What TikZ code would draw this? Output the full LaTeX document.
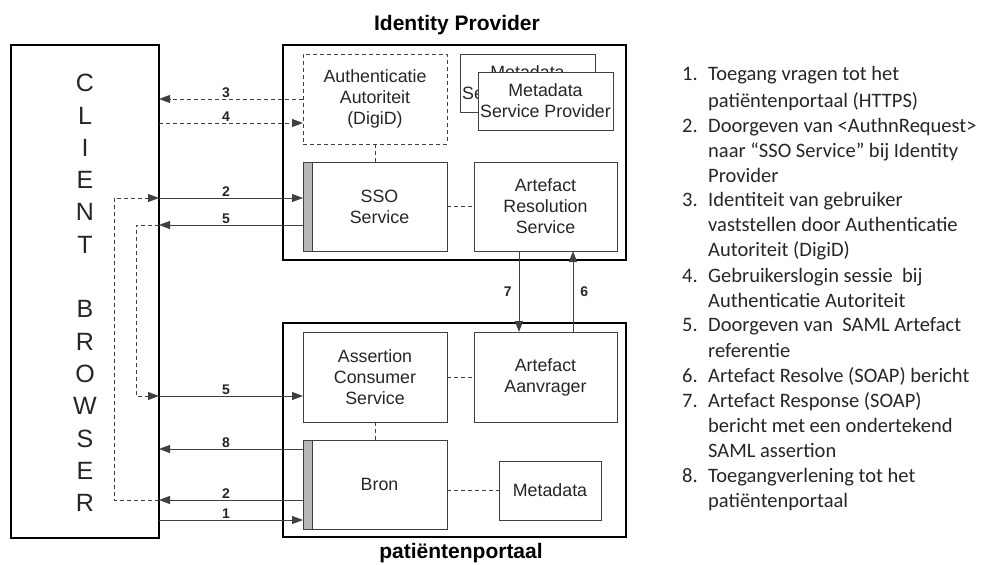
\documentclass[tikz,border=0pt]{standalone}
\usepackage{fontspec}
\setmainfont{Liberation Sans}
\newfontfamily\listfont{Carlito}
\usetikzlibrary{arrows.meta}
\tikzset{
  outerbox/.style={draw=black, line width=2pt, inner sep=0pt, outer sep=0pt},
  inbox/.style={draw=black!75, line width=0.9pt, fill=white, inner sep=0pt, outer sep=0pt,
    align=center, text=black!85, font=\fontsize{17.8}{21}\selectfont},
  dashbox/.style={inbox, dash pattern=on 4pt off 3pt},
  conn/.style={draw=black!75, line width=0.9pt},
  dconn/.style={conn, dash pattern=on 4pt off 3pt},
  tipend/.style={-{Triangle[length=11pt,width=8pt]}},
  lbl/.style={font=\bfseries\fontsize{14}{16}\selectfont, inner sep=1pt, text=black!85},
  title/.style={font=\bfseries\fontsize{21}{24}\selectfont, inner sep=0pt},
  listtxt/.style={font=\listfont\fontsize{20.5}{24}\selectfont, anchor=base west, inner sep=0pt, text=black!85},
  barfill/.style={draw=black!75, line width=0.9pt, fill=black!28}
}
\begin{document}
\begin{tikzpicture}[x=1pt,y=-1pt]
\useasboundingbox (0,0) rectangle (983,565);

% main containers
\node[outerbox, minimum width=148pt, minimum height=493pt] (client) at (85,291.5) {};
\node[font=\fontsize{25}{32.3}\selectfont, align=center, inner sep=0pt, text=black!85] (clienttxt) at (85,293)
  {C\\L\\I\\E\\N\\T\\\mbox{}\\B\\R\\O\\W\\S\\E\\R};
\node[outerbox, minimum width=343pt, minimum height=215pt] (idp) at (454.5,152.5) {};
\node[outerbox, minimum width=343pt, minimum height=214pt] (pp) at (454.5,430) {};
\node[title] (idptitle) at (457,25) {Identity Provider};
\node[title] (pptitle) at (461,553) {patiëntenportaal};

% identity provider components
\node[dashbox, minimum width=144pt, minimum height=90pt] (auth) at (375,99) {Authenticatie\\Autoriteit\\(DigiD)};
\node[inbox, minimum width=135pt, minimum height=58pt] (metaback) at (527.5,83) {Metadata\\Service Provider};
\node[inbox, minimum width=135pt, minimum height=58pt] (metafront) at (545.5,101) {Metadata\\Service Provider};
\node[inbox, minimum width=144pt, minimum height=89pt] (sso) at (375,206.5) {\hspace*{9pt}SSO\\\hspace*{9pt}Service};
\draw[barfill] (sso.north west) rectangle ([xshift=9pt]sso.south west);
\node[inbox, minimum width=143pt, minimum height=89pt] (ars) at (545.5,206.5) {Artefact\\Resolution\\Service};

% portal components
\node[inbox, minimum width=144pt, minimum height=90pt] (acs) at (375,377) {Assertion\\Consumer\\Service};
\node[inbox, minimum width=143pt, minimum height=90pt] (aa) at (545.5,377) {Artefact\\Aanvrager};
\node[inbox, minimum width=144pt, minimum height=89pt] (bron) at (375,484.5) {\hspace*{9pt}Bron};
\draw[barfill] (bron.north west) rectangle ([xshift=9pt]bron.south west);
\node[inbox, minimum width=102pt, minimum height=59pt] (meta2) at (550,490.5) {Metadata};

% internal dashed links
\draw[dconn] (auth.south) -- (sso.north);
\draw[dconn] (sso.east) -- (ars.west);
\draw[dconn] (acs.east) -- (aa.west);
\draw[dconn] (acs.south) -- (bron.north);
\draw[dconn] (bron.east |- meta2.west) -- (meta2.west);

% anchor coordinates
\coordinate (a3) at (auth.west);
\coordinate (a4) at ([yshift=-24pt]auth.west);
\coordinate (s2) at ([yshift=8.5pt]sso.west);
\coordinate (s5) at ([yshift=-18.5pt]sso.west);
\coordinate (c5) at ([yshift=-19pt]acs.west);
\coordinate (b8) at ([yshift=35.5pt]bron.west);
\coordinate (b2) at ([yshift=-15.5pt]bron.west);
\coordinate (b1) at ([yshift=-35.5pt]bron.west);
\coordinate (d2) at ([xshift=-45pt]client.east);
\coordinate (d5) at ([xshift=-23pt]client.east);
\coordinate (r7) at ([xshift=-26.5pt]ars.south);
\coordinate (r6) at ([xshift=27.5pt]aa.north);

% client <-> identity provider
\draw[dconn, tipend] (a3) -- node[lbl, above, xshift=-5pt] (l3) {3} (client.east |- a3);
\draw[dconn, tipend] (client.east |- a4) -- node[lbl, above, xshift=-5pt] (l4) {4} (a4);
\draw[conn, tipend] (client.east |- s2) -- node[lbl, above, xshift=-5pt] (l2a) {2} (s2);
\draw[conn, tipend] (s5) -- node[lbl, above, xshift=-5pt] (l5a) {5} (client.east |- s5);

% client <-> portal
\draw[conn, tipend] (client.east |- c5) -- node[lbl, above, xshift=-5pt] (l5b) {5} (c5);
\draw[conn, tipend] (b8) -- node[lbl, above, xshift=-5pt] (l8) {8} (client.east |- b8);
\draw[conn, tipend] (b2) -- node[lbl, above, xshift=-5pt] (l2b) {2} (client.east |- b2);
\draw[conn, tipend] (client.east |- b1) -- node[lbl, above, xshift=-5pt] (l1) {1} (b1);

% redirects inside the browser
\draw[dconn, tipend] (client.east |- b2) -| (d2 |- s2) -- (client.east |- s2);
\draw[dconn, tipend] (client.east |- s5) -| (d5 |- c5) -- (client.east |- c5);

% back channel
\draw[conn, tipend] (r7) -- node[lbl, left=6pt] (l7) {7} (r7 |- aa.north);
\draw[conn, tipend] (r6) -- node[lbl, right=6pt] (l6) {6} (r6 |- ars.south);

% legend
\node[listtxt] (n1) at (682,80) {1.};
\node[listtxt] (t1a) at (708,80) {Toegang vragen tot het};
\node[listtxt] (t1b) at (708,107) {patiëntenportaal (HTTPS)};
\node[listtxt] (n2) at (682,132) {2.};
\node[listtxt] (t2a) at (708,132) {Doorgeven van <AuthnRequest>};
\node[listtxt] (t2b) at (708,157) {naar “SSO Service” bij Identity};
\node[listtxt] (t2c) at (708,182) {Provider};
\node[listtxt] (n3) at (682,206) {3.};
\node[listtxt] (t3a) at (708,206) {Identiteit van gebruiker};
\node[listtxt] (t3b) at (708,231) {vaststellen door Authenticatie};
\node[listtxt] (t3c) at (708,256) {Autoriteit (DigiD)};
\node[listtxt] (n4) at (682,282) {4.};
\node[listtxt] (t4a) at (708,282) {Gebruikerslogin sessie~ bij};
\node[listtxt] (t4b) at (708,307) {Authenticatie Autoriteit};
\node[listtxt] (n5) at (682,331) {5.};
\node[listtxt] (t5a) at (708,331) {Doorgeven van~ SAML Artefact};
\node[listtxt] (t5b) at (708,357) {referentie};
\node[listtxt] (n6) at (682,382) {6.};
\node[listtxt] (t6a) at (708,382) {Artefact Resolve (SOAP) bericht};
\node[listtxt] (n7) at (682,407) {7.};
\node[listtxt] (t7a) at (708,407) {Artefact Response (SOAP)};
\node[listtxt] (t7b) at (708,432) {bericht met een ondertekend};
\node[listtxt] (t7c) at (708,457) {SAML assertion};
\node[listtxt] (n8) at (682,482) {8.};
\node[listtxt] (t8a) at (708,482) {Toegangverlening tot het};
\node[listtxt] (t8b) at (708,507) {patiëntenportaal};
\end{tikzpicture}
\end{document}
